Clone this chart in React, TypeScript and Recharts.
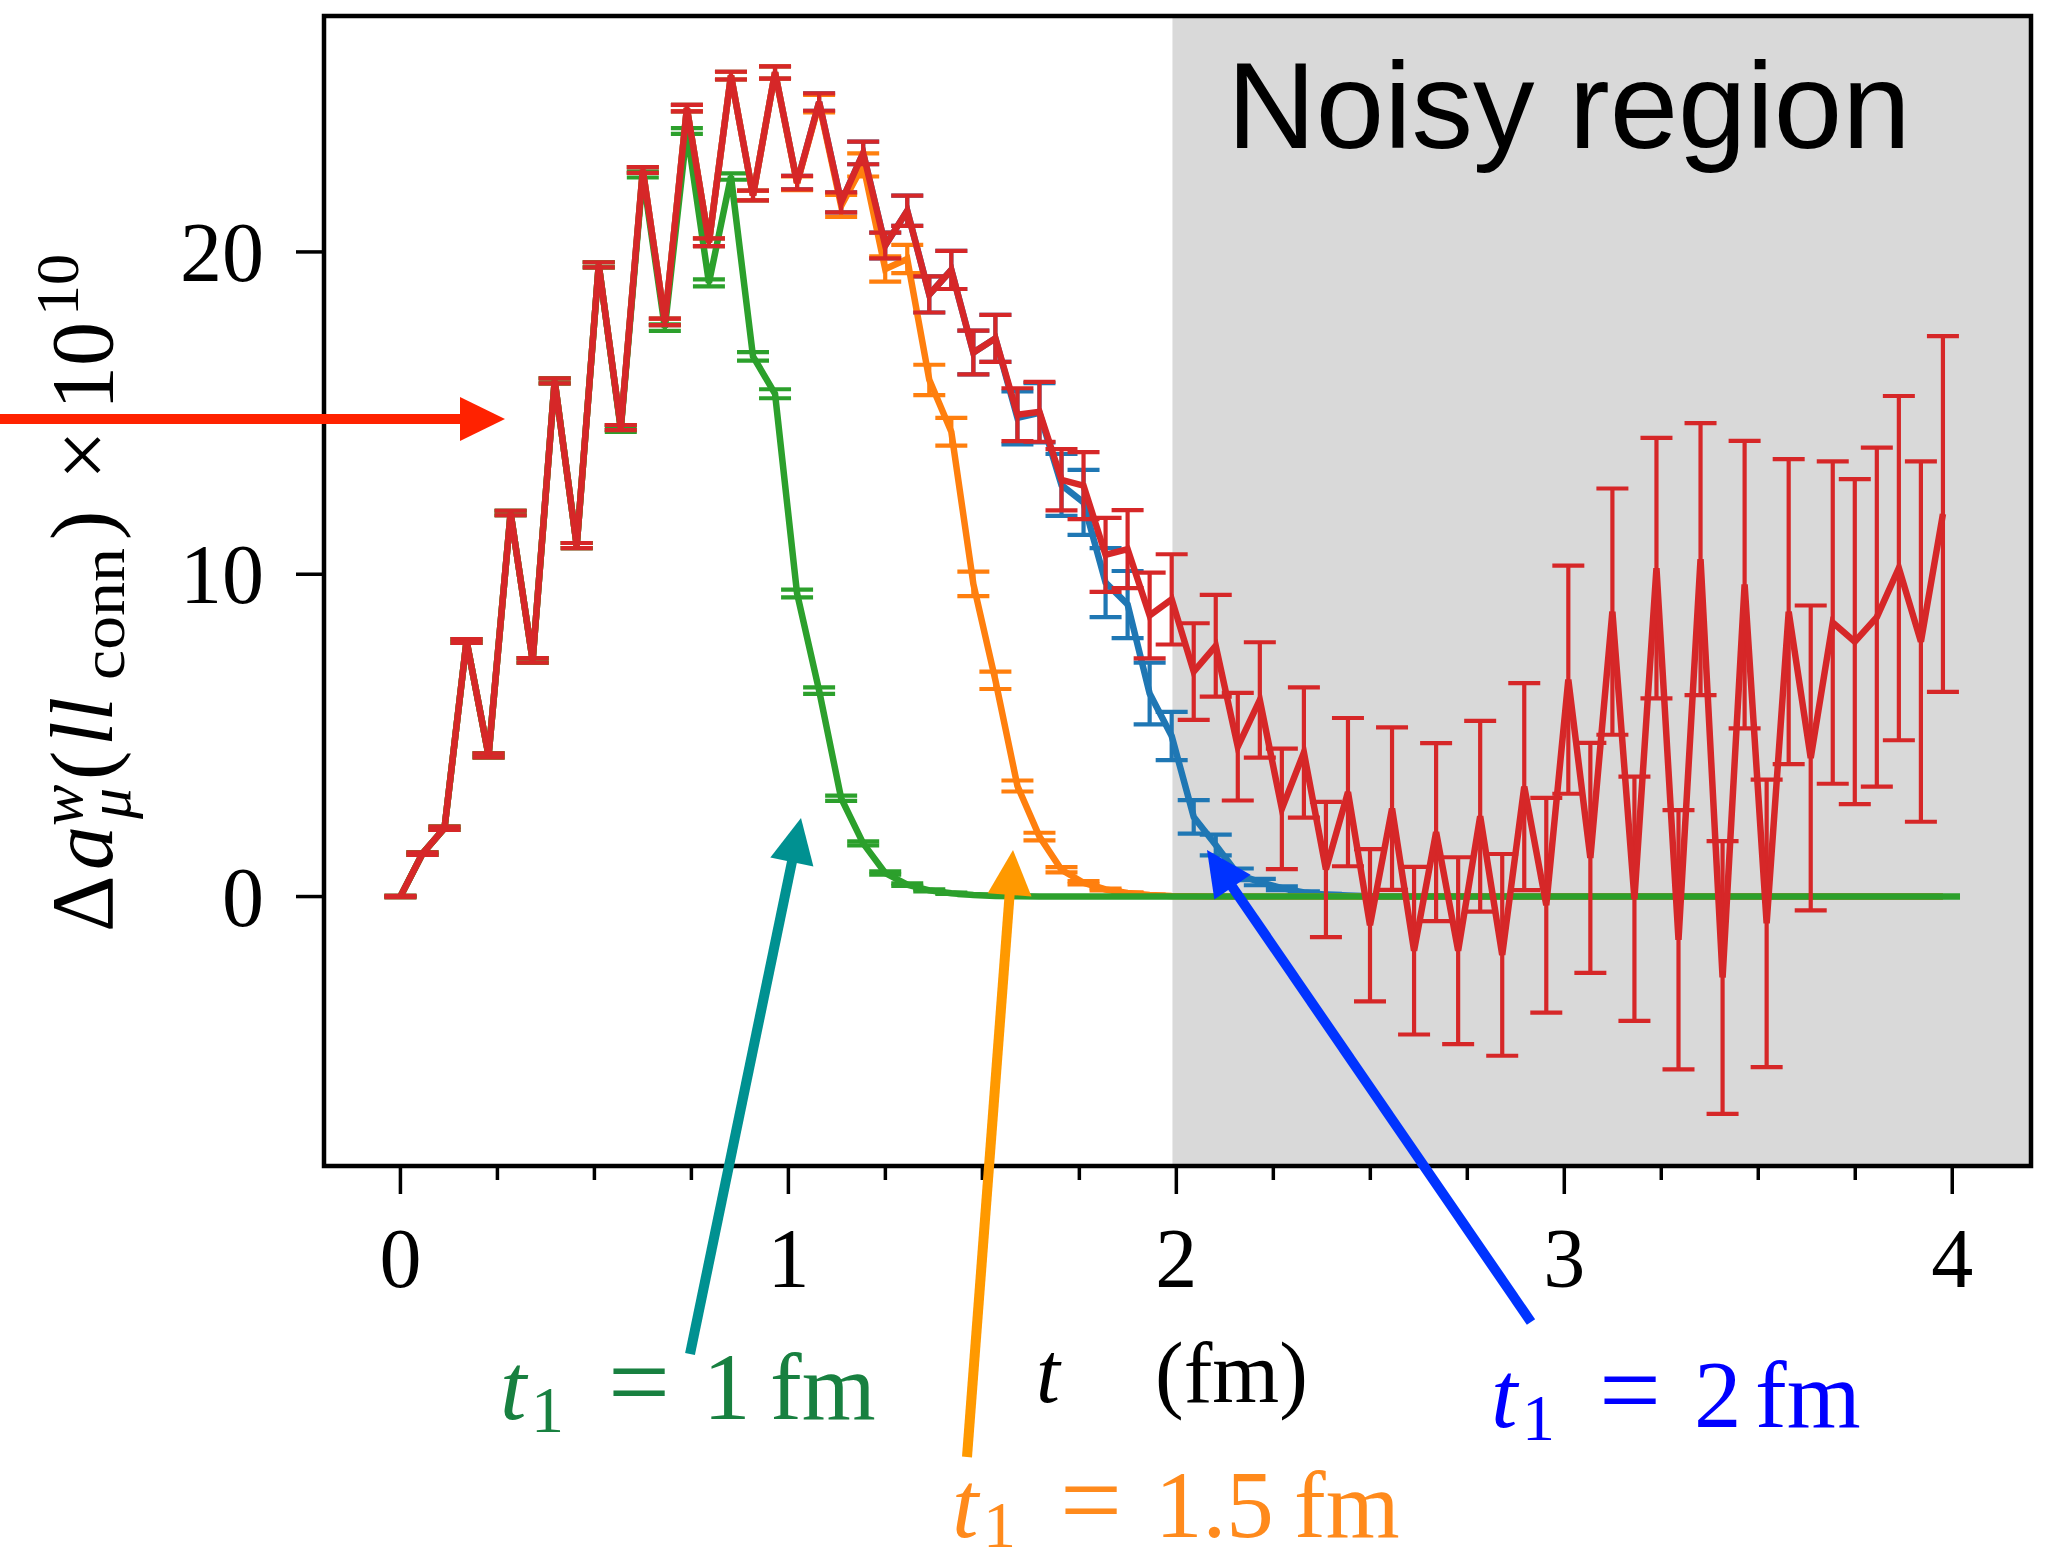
import React from 'react';
import { LineChart, Line, XAxis, YAxis, ErrorBar, ReferenceArea } from 'recharts';

const W = 2055;
const H = 1562;
const X_DOMAIN: [number, number] = [-0.197, 4.203];
const Y_DOMAIN: [number, number] = [-8.36, 27.32];
const X_TICKS = [0, 0.25, 0.5, 0.75, 1, 1.25, 1.5, 1.75, 2, 2.25, 2.5, 2.75, 3, 3.25, 3.5, 3.75, 4];
const Y_TICKS = [0, 10, 20];
const NOISY_START = 1.99;

// Euclidean time (fm)
const T = [
  0, 0.0568, 0.1136, 0.1704, 0.2272, 0.284, 0.3408, 0.3976, 0.4544, 0.5112,
  0.568, 0.6248, 0.6816, 0.7384, 0.7952, 0.852, 0.9088, 0.9656, 1.0224, 1.0792,
  1.136, 1.1928, 1.2496, 1.3064, 1.3632, 1.42, 1.4768, 1.5336, 1.5904, 1.6472,
  1.704, 1.7608, 1.8176, 1.8744, 1.9312, 1.988, 2.0448, 2.1016, 2.1584, 2.2152,
  2.272, 2.3288, 2.3856, 2.4424, 2.4992, 2.556, 2.6128, 2.6696, 2.7264, 2.7832,
  2.84, 2.8968, 2.9536, 3.0104, 3.0672, 3.124, 3.1808, 3.2376, 3.2944, 3.3512,
  3.408, 3.4648, 3.5216, 3.5784, 3.6352, 3.692, 3.7488, 3.8056, 3.8624, 3.9192,
  3.976,
];
const T_GREEN = [...T, 4.02];

// full integrand (red)
const RED_V = [
  0, 1.33, 2.12, 7.93, 4.38, 11.9, 7.33, 16.0, 10.89, 19.6,
  14.55, 22.54, 17.83, 24.46, 20.3, 25.47, 21.75, 25.57, 22.15, 24.65,
  21.54, 23.07, 20.2, 21.28, 18.68, 19.44, 16.88, 17.32, 14.95, 15.04,
  12.93, 12.75, 10.6, 10.78, 8.72, 9.22, 6.98, 7.78, 4.65, 6.1,
  2.72, 4.47, 0.84, 3.24, -0.89, 2.73, -1.68, 2.0, -1.68, 2.49,
  -1.81, 3.41, -0.27, 6.73, 1.2, 8.84, -0.07, 10.19, -1.34, 10.47,
  -2.51, 9.68, -0.83, 8.84, 4.3, 8.5, 7.91, 8.67, 10.19, 7.91,
  11.87,
];
const RED_E = [
  0.02, 0.04, 0.05, 0.06, 0.06, 0.07, 0.07, 0.08, 0.08, 0.08,
  0.08, 0.09, 0.1, 0.1, 0.12, 0.12, 0.15, 0.19, 0.21, 0.27,
  0.31, 0.35, 0.4, 0.47, 0.56, 0.59, 0.68, 0.73, 0.82, 0.93,
  0.95, 1.04, 1.15, 1.21, 1.33, 1.4, 1.5, 1.58, 1.67, 1.79,
  1.87, 2.02, 2.1, 2.3, 2.36, 2.52, 2.6, 2.76, 2.9, 2.96,
  3.13, 3.21, 3.33, 3.54, 3.57, 3.82, 3.79, 4.04, 4.02, 4.22,
  4.23, 4.46, 4.46, 4.73, 4.73, 5.0, 5.04, 5.26, 5.34, 5.59,
  5.52,
];

// t1 = 1 fm (green)
const GREEN_V = [
  0, 1.33, 2.12, 7.93, 4.38, 11.9, 7.33, 16.0, 10.89, 19.6,
  14.5, 22.4, 17.65, 23.75, 19.04, 22.34, 16.76, 15.6, 9.4, 6.39,
  3.05, 1.65, 0.73, 0.37, 0.19, 0.1, 0.05, 0.02, 0.01, 0,
  0, 0, 0, 0, 0, 0, 0, 0, 0, 0,
  0, 0, 0, 0, 0, 0, 0, 0, 0, 0,
  0, 0, 0, 0, 0, 0, 0, 0, 0, 0,
  0, 0, 0, 0, 0, 0, 0, 0, 0, 0,
  0, 0,
];
const GREEN_E = [
  0.02, 0.04, 0.05, 0.06, 0.06, 0.07, 0.07, 0.08, 0.08, 0.08,
  0.08, 0.09, 0.1, 0.09, 0.11, 0.1, 0.13, 0.14, 0.12, 0.1,
  0.08, 0.06, 0.05, 0.04, 0.03, 0.02, 0.01, 0, 0, 0,
  0, 0, 0, 0, 0, 0, 0, 0, 0, 0,
  0, 0, 0, 0, 0, 0, 0, 0, 0, 0,
  0, 0, 0, 0, 0, 0, 0, 0, 0, 0,
  0, 0, 0, 0, 0, 0, 0, 0, 0, 0,
  0, 0,
];

// t1 = 1.5 fm (orange)
const ORANGE_V = [
  0, 1.33, 2.12, 7.93, 4.38, 11.9, 7.33, 16.0, 10.89, 19.6,
  14.55, 22.54, 17.83, 24.46, 20.3, 25.47, 21.75, 25.57, 22.13, 24.6,
  21.43, 22.7, 19.47, 19.78, 16.03, 14.42, 9.7, 6.71, 3.43, 1.86,
  0.83, 0.43, 0.22, 0.11, 0.05, 0.02, 0.01, 0, 0, 0,
  0, 0, 0, 0, 0, 0, 0, 0, 0, 0,
  0, 0, 0, 0, 0, 0, 0, 0, 0, 0,
  0, 0, 0, 0, 0, 0, 0, 0, 0, 0,
  0,
];
const ORANGE_E = [
  0.02, 0.04, 0.05, 0.06, 0.06, 0.07, 0.07, 0.08, 0.08, 0.08,
  0.08, 0.09, 0.1, 0.1, 0.12, 0.12, 0.15, 0.19, 0.21, 0.27,
  0.34, 0.36, 0.39, 0.44, 0.47, 0.43, 0.38, 0.27, 0.17, 0.12,
  0.08, 0.05, 0.03, 0.02, 0.01, 0, 0, 0, 0, 0,
  0, 0, 0, 0, 0, 0, 0, 0, 0, 0,
  0, 0, 0, 0, 0, 0, 0, 0, 0, 0,
  0, 0, 0, 0, 0, 0, 0, 0, 0, 0,
  0,
];

// t1 = 2 fm (blue)
const BLUE_V = [
  0, 1.33, 2.12, 7.93, 4.38, 11.9, 7.33, 16.0, 10.89, 19.6,
  14.55, 22.54, 17.83, 24.46, 20.3, 25.47, 21.75, 25.57, 22.15, 24.65,
  21.54, 23.07, 20.2, 21.28, 18.68, 19.44, 16.88, 17.32, 14.85, 15.01,
  12.77, 12.23, 9.74, 9.06, 6.3, 4.98, 2.47, 1.6, 0.69, 0.45,
  0.26, 0.13, 0.06, 0.03, 0.01, 0, 0, 0, 0, 0,
  0, 0, 0, 0, 0, 0, 0, 0, 0, 0,
  0, 0, 0, 0, 0, 0, 0, 0, 0, 0,
  0,
];
const BLUE_E = [
  0.02, 0.04, 0.05, 0.06, 0.06, 0.07, 0.07, 0.08, 0.08, 0.08,
  0.08, 0.09, 0.1, 0.1, 0.12, 0.12, 0.15, 0.19, 0.21, 0.27,
  0.31, 0.35, 0.4, 0.47, 0.56, 0.59, 0.68, 0.73, 0.82, 0.92,
  0.96, 1.01, 1.07, 1.04, 0.96, 0.75, 0.52, 0.32, 0.18, 0.1,
  0.06, 0.03, 0.02, 0, 0, 0, 0, 0, 0, 0,
  0, 0, 0, 0, 0, 0, 0, 0, 0, 0,
  0, 0, 0, 0, 0, 0, 0, 0, 0, 0,
  0,
];

// annotation layer (figure pixels)
const ARROWS = [
  { from: [0, 419], to: [505, 419], color: '#ff2200' },
  { from: [690, 1354], to: [801, 818], color: '#009191' },
  { from: [967, 1457], to: [1013, 850], color: '#ff9900' },
  { from: [1531, 1322], to: [1207, 850], color: '#0033ff' },
];
const T1_LABELS = [
  { x: 500, y: 1419, subDy: 13, color: '#188040', value: '1', fmDx: 270 },
  { x: 952, y: 1537, subDy: 10, color: '#ff8a1c', value: '1.5', fmDx: 342 },
  { x: 1491, y: 1427, subDy: 13, color: '#0000ff', value: '2', fmDx: 264 },
];

const SERIF = "'Liberation Serif', 'DejaVu Serif', serif";
const SANS = "'Liberation Sans', Arial, sans-serif";

type Pt = { t: number; v: number; e: number };
const toPoints = (ts: number[], vs: number[], es: number[]): Pt[] =>
  ts.map((t, i) => ({ t, v: vs[i], e: es[i] }));

const redData = toPoints(T, RED_V, RED_E);
const greenData = toPoints(T_GREEN, GREEN_V, GREEN_E);
const orangeData = toPoints(T, ORANGE_V, ORANGE_E);
const blueData = toPoints(T, BLUE_V, BLUE_E);

function XTick(props: any) {
  const { x, y, payload } = props;
  const major = Number.isInteger(payload.value);
  return (
    <g>
      <line x1={x} x2={x} y1={y} y2={y + (major ? 28 : 14)} stroke="#000" strokeWidth={3.5} />
      {major && (
        <text x={x} y={y + 121} textAnchor="middle" fontFamily={SERIF} fontSize={84} fill="#000">
          {payload.value}
        </text>
      )}
    </g>
  );
}

function YTick(props: any) {
  const { x, y, payload } = props;
  return (
    <g>
      <line x1={x - 28} x2={x} y1={y} y2={y} stroke="#000" strokeWidth={3.5} />
      <text x={x - 60} y={y + 29} textAnchor="end" fontFamily={SERIF} fontSize={84} fill="#000">
        {payload.value}
      </text>
    </g>
  );
}

function Arrow({ from, to, color }: { from: number[]; to: number[]; color: string }) {
  const head = 45;
  const half = 22;
  const dx = to[0] - from[0];
  const dy = to[1] - from[1];
  const L = Math.hypot(dx, dy);
  const ux = dx / L;
  const uy = dy / L;
  const bx = to[0] - ux * head;
  const by = to[1] - uy * head;
  const px = -uy;
  const py = ux;
  return (
    <g>
      <line x1={from[0]} y1={from[1]} x2={bx + ux * 4} y2={by + uy * 4} stroke={color} strokeWidth={10} />
      <polygon
        points={`${to[0]},${to[1]} ${bx + px * half},${by + py * half} ${bx - px * half},${by - py * half}`}
        fill={color}
      />
    </g>
  );
}

function T1Label({ x, y, subDy, color, value, fmDx }: { x: number; y: number; subDy: number; color: string; value: string; fmDx: number }) {
  return (
    <text fontFamily={SERIF} fontSize={95} fill={color}>
      <tspan x={x} y={y} fontStyle="italic">t</tspan>
      <tspan x={x + 31} y={y + subDy} fontSize={66}>1</tspan>
      <tspan x={x + 108} y={y} fontSize={110}>=</tspan>
      <tspan x={x + 203} y={y}>{value}</tspan>
      <tspan x={x + fmDx} y={y}>fm</tspan>
    </text>
  );
}

function YLabel() {
  const s = 62;
  return (
    <text transform="translate(112,932) rotate(-90)" fontFamily={SERIF} fontSize={88} fill="#000">
      <tspan x={0} y={0}>Δ</tspan>
      <tspan x={62} y={0} fontStyle="italic">a</tspan>
      <tspan x={106} y={-30} fontSize={s} fontStyle="italic">w</tspan>
      <tspan x={113} y={18} fontSize={s} fontStyle="italic">μ</tspan>
      <tspan x={152} y={0}>(</tspan>
      <tspan x={186} y={0} fontStyle="italic">ll</tspan>
      <tspan x={252} y={12} fontSize={s} textLength={132} lengthAdjust="spacingAndGlyphs">conn</tspan>
      <tspan x={392} y={0}>)</tspan>
      <tspan x={452} y={0}>×</tspan>
      <tspan x={522} y={0}>10</tspan>
      <tspan x={616} y={-34} fontSize={s}>10</tspan>
    </text>
  );
}

export default function App() {
  return (
    <div style={{ position: 'absolute', left: 0, top: 0, width: W, height: H, background: '#fff' }}>
      <LineChart width={W} height={H} margin={{ top: 16, right: 24, bottom: 0, left: 0 }}>
        <XAxis
          type="number"
          dataKey="t"
          domain={X_DOMAIN}
          allowDataOverflow
          ticks={X_TICKS}
          interval={0}
          tick={XTick}
          tickLine={false}
          axisLine={false}
          tickSize={0}
          tickMargin={0}
          height={396}
        />
        <YAxis
          type="number"
          domain={Y_DOMAIN}
          allowDataOverflow
          ticks={Y_TICKS}
          interval={0}
          tick={YTick}
          tickLine={false}
          axisLine={false}
          tickSize={0}
          tickMargin={0}
          width={324}
        />
        <ReferenceArea x1={NOISY_START} x2={X_DOMAIN[1]} fill="#d9d9d9" fillOpacity={1} stroke="none" />
        <Line data={blueData} dataKey="v" type="linear" stroke="#1f77b4" strokeWidth={6.5} dot={false} isAnimationActive={false}>
          <ErrorBar dataKey="e" width={16} stroke="#1f77b4" strokeWidth={4.2} direction="y" isAnimationActive={false} />
        </Line>
        <Line data={orangeData} dataKey="v" type="linear" stroke="#ff7f0e" strokeWidth={6.5} dot={false} isAnimationActive={false}>
          <ErrorBar dataKey="e" width={16} stroke="#ff7f0e" strokeWidth={4.2} direction="y" isAnimationActive={false} />
        </Line>
        <Line data={greenData} dataKey="v" type="linear" stroke="#2ca02c" strokeWidth={6.5} dot={false} isAnimationActive={false}>
          <ErrorBar dataKey="e" width={16} stroke="#2ca02c" strokeWidth={4.2} direction="y" isAnimationActive={false} />
        </Line>
        <Line data={redData} dataKey="v" type="linear" stroke="#d62728" strokeWidth={6.5} dot={false} isAnimationActive={false}>
          <ErrorBar dataKey="e" width={16} stroke="#d62728" strokeWidth={4.2} direction="y" isAnimationActive={false} />
        </Line>
      </LineChart>
      <svg style={{ position: 'absolute', left: 0, top: 0, pointerEvents: 'none' }} width={W} height={H}>
        <rect x={324} y={16} width={1707} height={1150} fill="none" stroke="#000" strokeWidth={4.5} />
        <text x={1227} y={148} fontFamily={SANS} fontSize={123} fill="#000">Noisy region</text>
        <YLabel />
        <text x={1036} y={1402} fontFamily={SERIF} fontSize={86} fontStyle="italic" fill="#000">t</text>
        <text x={1155} y={1402} fontFamily={SERIF} fontSize={86} fill="#000">(fm)</text>
        {ARROWS.map((a, i) => (
          <Arrow key={i} from={a.from} to={a.to} color={a.color} />
        ))}
        {T1_LABELS.map((l, i) => (
          <T1Label key={i} {...l} />
        ))}
      </svg>
    </div>
  );
}
